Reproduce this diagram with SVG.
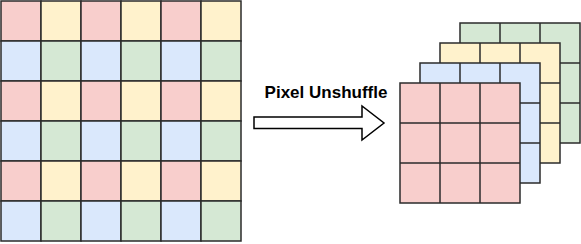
<svg xmlns="http://www.w3.org/2000/svg" xmlns:xlink="http://www.w3.org/1999/xlink" width="581" height="244" viewBox="0 0 581 244">
  <style>
    .c { stroke: #2b2b2b; stroke-width: 1.5; }
    .r { fill: #f8cecc; }
    .y { fill: #fff2cc; }
    .b { fill: #dae8fc; }
    .g { fill: #d5e8d4; }
    .lbl { font-family: "Liberation Sans", Arial, sans-serif; font-weight: bold; font-size: 17px; fill: #000; }
  </style>
  <defs>
    <g id="quad">
      <rect class="c r" x="0" y="0" width="40" height="40"/>
      <rect class="c y" x="40" y="0" width="40" height="40"/>
      <rect class="c b" x="0" y="40" width="40" height="40"/>
      <rect class="c g" x="40" y="40" width="40" height="40"/>
    </g>
    <g id="lines3">
      <path class="c" fill="none" d="M40 0V120M80 0V120M0 40H120M0 80H120"/>
      <rect class="c" fill="none" x="0" y="0" width="120" height="120"/>
    </g>
  </defs>

  <g id="input-grid">
    <use xlink:href="#quad" x="1" y="1"/>
    <use xlink:href="#quad" x="81" y="1"/>
    <use xlink:href="#quad" x="161" y="1"/>
    <use xlink:href="#quad" x="1" y="81"/>
    <use xlink:href="#quad" x="81" y="81"/>
    <use xlink:href="#quad" x="161" y="81"/>
    <use xlink:href="#quad" x="1" y="161"/>
    <use xlink:href="#quad" x="81" y="161"/>
    <use xlink:href="#quad" x="161" y="161"/>
  </g>

  <g id="layer-green" transform="translate(460,23)">
    <rect class="g" x="0" y="0" width="120" height="120"/>
    <use xlink:href="#lines3"/>
  </g>
  <g id="layer-yellow" transform="translate(440,43)">
    <rect class="y" x="0" y="0" width="120" height="120"/>
    <use xlink:href="#lines3"/>
  </g>
  <g id="layer-blue" transform="translate(420,63)">
    <rect class="b" x="0" y="0" width="120" height="120"/>
    <use xlink:href="#lines3"/>
  </g>
  <g id="layer-red" transform="translate(400,83)">
    <rect class="r" x="0" y="0" width="120" height="120"/>
    <use xlink:href="#lines3"/>
  </g>

  <g id="connectors">
    <g id="arrow-unshuffle">
      <polygon points="254,117 362,117 362,106 384,123 362,140 362,128.5 254,128.5" fill="#fff" stroke="#000" stroke-width="1.5" stroke-linejoin="miter"/>
      <text class="lbl" x="326" y="97.5" text-anchor="middle">Pixel Unshuffle</text>
    </g>
  </g>
</svg>
